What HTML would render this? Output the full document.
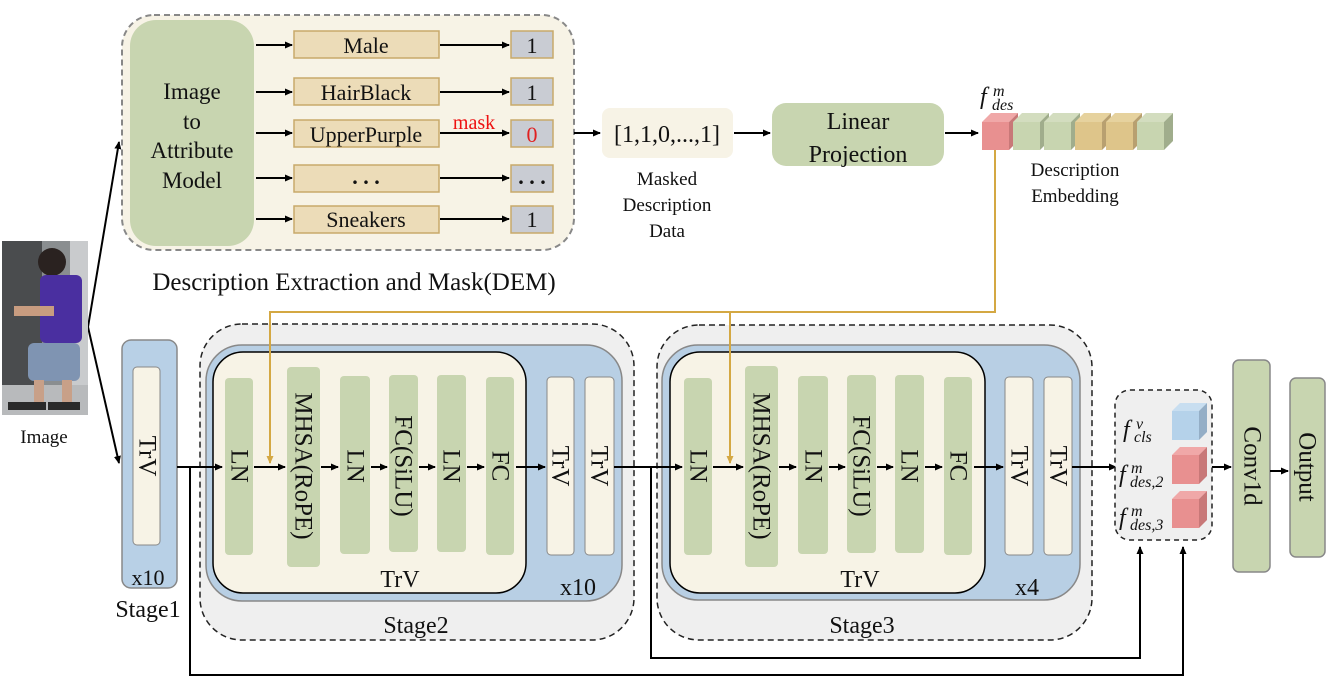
<!DOCTYPE html>
<html><head><meta charset="utf-8"><style>
html,body{margin:0;padding:0;background:#fff;width:1329px;height:696px;overflow:hidden}
text{font-family:"Liberation Serif",serif;fill:#111}
</style></head><body>
<svg width="1329" height="696" viewBox="0 0 1329 696" xmlns="http://www.w3.org/2000/svg">
<defs>
<marker id="a" markerWidth="8" markerHeight="8" refX="7" refY="4" orient="auto" markerUnits="userSpaceOnUse"><path d="M0,0.5 L8,4 L0,7.5 z" fill="#000"/></marker>
<marker id="g" markerWidth="8" markerHeight="8" refX="7" refY="4" orient="auto" markerUnits="userSpaceOnUse"><path d="M0,0.5 L8,4 L0,7.5 z" fill="#d4a843"/></marker>
</defs>

<!-- DEM -->
<rect x="122" y="15" width="452" height="235" rx="32" fill="#f7f3e6" stroke="#888" stroke-width="2" stroke-dasharray="6,4"/>
<rect x="130" y="20" width="124" height="226" rx="26" fill="#c8d5b0"/>
<g font-size="23" text-anchor="middle">
<text x="192" y="99">Image</text><text x="192" y="129">to</text><text x="192" y="158">Attribute</text><text x="192" y="188">Model</text>
</g>
<g stroke="#000" stroke-width="2" marker-end="url(#a)">
<line x1="256" y1="45" x2="292" y2="45"/><line x1="256" y1="92" x2="292" y2="92"/><line x1="256" y1="133" x2="292" y2="133"/><line x1="256" y1="178" x2="292" y2="178"/><line x1="256" y1="219" x2="292" y2="219"/>
<line x1="440" y1="45" x2="509" y2="45"/><line x1="440" y1="92" x2="509" y2="92"/><line x1="440" y1="133" x2="509" y2="133"/><line x1="440" y1="178" x2="509" y2="178"/><line x1="440" y1="219" x2="509" y2="219"/>
</g>
<g fill="#ecdcb8" stroke="#c8a96a" stroke-width="1.5">
<rect x="294" y="31" width="145" height="27"/><rect x="294" y="78" width="145" height="27"/><rect x="294" y="120" width="145" height="27"/><rect x="294" y="165" width="145" height="27"/><rect x="294" y="206" width="145" height="27"/>
</g>
<g fill="#c9ccd3" stroke="#c8a96a" stroke-width="1.5">
<rect x="511" y="31" width="42" height="27"/><rect x="511" y="78" width="42" height="27"/><rect x="511" y="120" width="42" height="27"/><rect x="511" y="165" width="42" height="27"/><rect x="511" y="206" width="42" height="27"/>
</g>
<g font-size="22" text-anchor="middle">
<text x="366" y="53">Male</text><text x="366" y="100">HairBlack</text><text x="366" y="142">UpperPurple</text><text x="366" y="184" font-weight="bold">. . .</text><text x="366" y="227">Sneakers</text>
<text x="532" y="53">1</text><text x="532" y="100">1</text><text x="532" y="142" style="fill:#e02020">0</text><text x="532" y="184" font-weight="bold">. . .</text><text x="532" y="227">1</text>
</g>
<text x="474" y="129" font-size="20" text-anchor="middle" style="fill:#ee1111">mask</text>
<text x="354" y="290" font-size="25" text-anchor="middle">Description Extraction and Mask(DEM)</text>

<line x1="574" y1="133" x2="600" y2="133" stroke="#000" stroke-width="2" marker-end="url(#a)"/>
<rect x="602" y="108" width="131" height="50" rx="8" fill="#f7f3e6"/>
<text x="667" y="142" font-size="24" text-anchor="middle">[1,1,0,...,1]</text>
<g font-size="19" text-anchor="middle"><text x="667" y="185">Masked</text><text x="667" y="211">Description</text><text x="667" y="237">Data</text></g>
<line x1="734" y1="133" x2="770" y2="133" stroke="#000" stroke-width="2" marker-end="url(#a)"/>
<rect x="772" y="103" width="172" height="63" rx="14" fill="#c8d5b0"/>
<g font-size="24" text-anchor="middle"><text x="858" y="129">Linear</text><text x="858" y="162">Projection</text></g>
<line x1="945" y1="133" x2="978" y2="133" stroke="#000" stroke-width="2" marker-end="url(#a)"/>

<!-- embedding cubes -->
<g>
<g transform="translate(982,113)"><rect x="0" y="9" width="27" height="28" fill="#e89090"/><path d="M0,9 L9,0 L36,0 L27,9z" fill="#f0a8a8"/><path d="M27,9 L36,0 L36,28 L27,37z" fill="#c87878"/></g>
<g transform="translate(1013,113)"><rect x="0" y="9" width="27" height="28" fill="#c8d5b0"/><path d="M0,9 L9,0 L36,0 L27,9z" fill="#d3ddbf"/><path d="M27,9 L36,0 L36,28 L27,37z" fill="#a0ad8c"/></g>
<g transform="translate(1044,113)"><rect x="0" y="9" width="27" height="28" fill="#c8d5b0"/><path d="M0,9 L9,0 L36,0 L27,9z" fill="#d3ddbf"/><path d="M27,9 L36,0 L36,28 L27,37z" fill="#a0ad8c"/></g>
<g transform="translate(1075,113)"><rect x="0" y="9" width="27" height="28" fill="#dec58a"/><path d="M0,9 L9,0 L36,0 L27,9z" fill="#e6d29e"/><path d="M27,9 L36,0 L36,28 L27,37z" fill="#b8a070"/></g>
<g transform="translate(1106,113)"><rect x="0" y="9" width="27" height="28" fill="#dec58a"/><path d="M0,9 L9,0 L36,0 L27,9z" fill="#e6d29e"/><path d="M27,9 L36,0 L36,28 L27,37z" fill="#b8a070"/></g>
<g transform="translate(1137,113)"><rect x="0" y="9" width="27" height="28" fill="#c8d5b0"/><path d="M0,9 L9,0 L36,0 L27,9z" fill="#d3ddbf"/><path d="M27,9 L36,0 L36,28 L27,37z" fill="#a0ad8c"/></g>
</g>
<text x="980" y="104" font-size="24" font-style="italic">f</text><text x="993" y="96" font-size="16" font-style="italic">m</text><text x="992" y="110" font-size="16" font-style="italic">des</text>
<g font-size="19" text-anchor="middle"><text x="1075" y="176">Description</text><text x="1075" y="202">Embedding</text></g>

<!-- lower stages backgrounds -->
<rect x="122" y="340" width="55" height="248" rx="9" fill="#b8d0e6" stroke="#888" stroke-width="1.5"/>
<rect x="133" y="367" width="27" height="178" rx="4" fill="#f7f3e6" stroke="#888"/>
<text x="148" y="585" font-size="22" text-anchor="middle">x10</text>
<text x="148" y="617" font-size="24" text-anchor="middle">Stage1</text>

<rect x="200" y="324" width="434" height="316" rx="42" fill="#efefef" stroke="#222" stroke-width="1.5" stroke-dasharray="6,4"/>
<rect x="206" y="345" width="416" height="256" rx="36" fill="#b8cfe4" stroke="#888" stroke-width="1.5"/>
<rect x="213" y="352" width="313" height="241" rx="30" fill="#f7f3e6" stroke="#000" stroke-width="1.5"/>
<rect x="657" y="325" width="435" height="315" rx="42" fill="#efefef" stroke="#222" stroke-width="1.5" stroke-dasharray="6,4"/>
<rect x="662" y="345" width="418" height="255" rx="36" fill="#b8cfe4" stroke="#888" stroke-width="1.5"/>
<rect x="670" y="352" width="315" height="241" rx="30" fill="#f7f3e6" stroke="#000" stroke-width="1.5"/>

<g fill="#c8d5b0">
<rect x="225" y="378" width="28" height="177" rx="4"/><rect x="287" y="367" width="33" height="200" rx="4"/><rect x="340" y="376" width="30" height="178" rx="4"/><rect x="389" y="375" width="29" height="177" rx="4"/><rect x="437" y="375" width="29" height="177" rx="4"/><rect x="486" y="377" width="28" height="178" rx="4"/>
<rect x="684" y="378" width="28" height="177" rx="4"/><rect x="745" y="366" width="33" height="201" rx="4"/><rect x="798" y="376" width="30" height="178" rx="4"/><rect x="847" y="375" width="29" height="178" rx="4"/><rect x="895" y="375" width="29" height="178" rx="4"/><rect x="944" y="377" width="28" height="178" rx="4"/>
</g>
<g fill="#f7f3e6" stroke="#888">
<rect x="547" y="377" width="27" height="178" rx="4"/><rect x="585" y="377" width="29" height="178" rx="4"/>
<rect x="1005" y="377" width="28" height="178" rx="4"/><rect x="1044" y="377" width="28" height="178" rx="4"/>
</g>
<rect x="1233" y="360" width="37" height="212" rx="6" fill="#c8d5b0" stroke="#888" stroke-width="1.5"/>
<rect x="1290" y="378" width="35" height="179" rx="6" fill="#c8d5b0" stroke="#888" stroke-width="1.5"/>

<g font-size="25" text-anchor="middle" dominant-baseline="central">
<text transform="translate(147,456) rotate(90)">TrV</text>
<text transform="translate(239,466) rotate(90)">LN</text>
<text transform="translate(303,466) rotate(90)">MHSA(RoPE)</text>
<text transform="translate(355,466) rotate(90)">LN</text>
<text transform="translate(403,466) rotate(90)">FC(SiLU)</text>
<text transform="translate(451,466) rotate(90)">LN</text>
<text transform="translate(500,466) rotate(90)">FC</text>
<text transform="translate(560,466) rotate(90)">TrV</text>
<text transform="translate(599,466) rotate(90)">TrV</text>
<text transform="translate(698,466) rotate(90)">LN</text>
<text transform="translate(761,466) rotate(90)">MHSA(RoPE)</text>
<text transform="translate(813,466) rotate(90)">LN</text>
<text transform="translate(861,466) rotate(90)">FC(SiLU)</text>
<text transform="translate(909,466) rotate(90)">LN</text>
<text transform="translate(958,466) rotate(90)">FC</text>
<text transform="translate(1019,466) rotate(90)">TrV</text>
<text transform="translate(1058,466) rotate(90)">TrV</text>
<text transform="translate(1252,466) rotate(90)">Conv1d</text>
<text transform="translate(1307,467) rotate(90)">Output</text>
</g>
<g font-size="24" text-anchor="middle">
<text x="400" y="587">TrV</text><text x="578" y="595">x10</text><text x="416" y="633">Stage2</text>
<text x="860" y="587">TrV</text><text x="1027" y="595">x4</text><text x="862" y="633">Stage3</text>
</g>

<!-- connectors -->
<g stroke="#000" stroke-width="2" fill="none">
<line x1="88" y1="327" x2="119" y2="142" marker-end="url(#a)"/>
<line x1="88" y1="327" x2="119" y2="463" marker-end="url(#a)"/>
<line x1="177" y1="467" x2="222" y2="467" marker-end="url(#a)"/>
<line x1="254" y1="467" x2="285" y2="467" marker-end="url(#a)"/>
<line x1="321" y1="467" x2="338" y2="467" marker-end="url(#a)"/>
<line x1="371" y1="467" x2="387" y2="467" marker-end="url(#a)"/>
<line x1="419" y1="467" x2="435" y2="467" marker-end="url(#a)"/>
<line x1="467" y1="467" x2="484" y2="467" marker-end="url(#a)"/>
<line x1="516" y1="467" x2="545" y2="467" marker-end="url(#a)"/>
<line x1="614" y1="467" x2="682" y2="467" marker-end="url(#a)"/>
<line x1="713" y1="467" x2="743" y2="467" marker-end="url(#a)"/>
<line x1="779" y1="467" x2="796" y2="467" marker-end="url(#a)"/>
<line x1="829" y1="467" x2="845" y2="467" marker-end="url(#a)"/>
<line x1="877" y1="467" x2="893" y2="467" marker-end="url(#a)"/>
<line x1="925" y1="467" x2="942" y2="467" marker-end="url(#a)"/>
<line x1="974" y1="467" x2="1003" y2="467" marker-end="url(#a)"/>
<line x1="1072" y1="467" x2="1116" y2="467" marker-end="url(#a)"/>
<line x1="1212" y1="467" x2="1231" y2="467" marker-end="url(#a)"/>
<line x1="1270" y1="471" x2="1288" y2="471" marker-end="url(#a)"/>
<polyline points="190,467 190,675 1183,675 1183,547" marker-end="url(#a)"/>
<polyline points="651,467 651,658 1140,658 1140,547" marker-end="url(#a)"/>
</g>
<g stroke="#d4a843" stroke-width="2" fill="none">
<polyline points="995,150 995,312 270,312 270,463" marker-end="url(#g)"/>
<line x1="730" y1="312" x2="730" y2="463" marker-end="url(#g)"/>
</g>

<!-- feature box -->
<rect x="1115" y="390" width="97" height="150" rx="15" fill="#efefef" stroke="#222" stroke-width="1.5" stroke-dasharray="5,4"/>
<g transform="translate(1172,403)"><rect x="0" y="8" width="27" height="29" fill="#b5d2ea"/><path d="M0,8 L8,0 L35,0 L27,8z" fill="#c8def0"/><path d="M27,8 L35,0 L35,29 L27,37z" fill="#94aec6"/></g>
<g transform="translate(1172,447)"><rect x="0" y="8" width="27" height="29" fill="#e89090"/><path d="M0,8 L8,0 L35,0 L27,8z" fill="#f0a8a8"/><path d="M27,8 L35,0 L35,29 L27,37z" fill="#c87878"/></g>
<g transform="translate(1172,491)"><rect x="0" y="8" width="27" height="29" fill="#e89090"/><path d="M0,8 L8,0 L35,0 L27,8z" fill="#f0a8a8"/><path d="M27,8 L35,0 L35,29 L27,37z" fill="#c87878"/></g>
<g font-style="italic">
<text x="1123" y="437" font-size="24">f</text><text x="1136" y="429" font-size="16">v</text><text x="1134" y="442" font-size="16">cls</text>
<text x="1119" y="482" font-size="24">f</text><text x="1131" y="473" font-size="16">m</text><text x="1130" y="487" font-size="16">des,2</text>
<text x="1119" y="525" font-size="24">f</text><text x="1131" y="516" font-size="16">m</text><text x="1130" y="530" font-size="16">des,3</text>
</g>

<!-- person image -->
<g>
<rect x="2" y="241" width="86" height="174" fill="#8a8e90"/>
<rect x="2" y="241" width="40" height="174" fill="#4a4c4e"/>
<rect x="70" y="241" width="18" height="174" fill="#c9cbcd"/>
<rect x="2" y="385" width="86" height="30" fill="#b8babc"/>
<ellipse cx="52" cy="262" rx="14" ry="14" fill="#2a2220"/>
<rect x="40" y="275" width="42" height="68" rx="6" fill="#4a2fa0"/>
<rect x="14" y="306" width="40" height="10" fill="#c89c80"/>
<rect x="28" y="343" width="52" height="38" rx="6" fill="#7f94b2"/>
<rect x="34" y="380" width="10" height="24" fill="#c8a088"/>
<rect x="62" y="380" width="10" height="24" fill="#c8a088"/>
<rect x="8" y="402" width="38" height="8" fill="#2a2a2a"/>
<rect x="48" y="402" width="32" height="8" fill="#2a2a2a"/>
</g>
<text x="44" y="443" font-size="19" text-anchor="middle">Image</text>
</svg>
</body></html>
